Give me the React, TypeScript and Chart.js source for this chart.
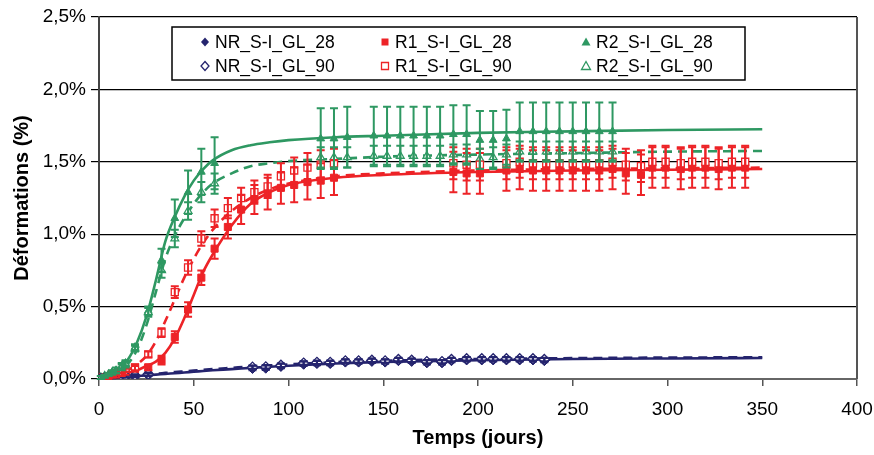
import React, { useEffect, useRef } from 'react';
import { Chart, registerables } from 'chart.js';

Chart.register(...registerables);

const NAVY = '#25246E';
const RED = '#ED2327';
const GREEN = '#2E9862';
const FONT = '"Liberation Sans", Arial, sans-serif';

// ---------- NR series (blue diamonds) ----------
const nrDays = [1, 3, 5, 7, 9, 12, 14, 19, 26, 81, 88, 96, 108, 115, 122, 130, 137, 144, 151, 158, 165, 173, 181, 186, 194, 202, 208, 215, 222, 229, 235];
const nr28 = [0.0, 0.005, 0.008, 0.01, 0.012, 0.015, 0.018, 0.02, 0.03, 0.076, 0.078, 0.09, 0.105, 0.11, 0.11, 0.12, 0.12, 0.125, 0.12, 0.13, 0.125, 0.115, 0.115, 0.13, 0.135, 0.135, 0.135, 0.135, 0.135, 0.135, 0.13];
const nr90 = [0.003, 0.006, 0.01, 0.012, 0.015, 0.018, 0.02, 0.025, 0.035, 0.082, 0.084, 0.095, 0.11, 0.115, 0.115, 0.125, 0.125, 0.13, 0.125, 0.135, 0.13, 0.12, 0.12, 0.135, 0.14, 0.14, 0.14, 0.14, 0.14, 0.14, 0.135];
const nrErr28 = [0, 0, 0.005, 0.005, 0.005, 0.005, 0.008, 0.008, 0.01, 0.015, 0.015, 0.015, 0.015, 0.015, 0.015, 0.015, 0.015, 0.015, 0.015, 0.015, 0.015, 0.015, 0.015, 0.015, 0.015, 0.015, 0.015, 0.015, 0.015, 0.015, 0.015];
const nrErr90 = [0, 0, 0.005, 0.005, 0.005, 0.005, 0.008, 0.008, 0.01, 0.012, 0.012, 0.012, 0.012, 0.012, 0.012, 0.012, 0.012, 0.012, 0.012, 0.012, 0.012, 0.012, 0.012, 0.012, 0.012, 0.012, 0.012, 0.012, 0.012, 0.012, 0.012];

// ---------- R1 series (red squares) ----------
const r1Days = [1, 3, 5, 7, 9, 12, 14, 19, 26, 33, 40, 47, 54, 61, 68, 75, 82, 89, 96, 103, 110, 117, 124, 187, 194, 201, 215, 222, 229, 236, 243, 250, 257, 264, 271, 278, 286, 292, 299, 307, 313, 320, 327, 334, 341];
const r1_28 = [0.0, 0.01, 0.01, 0.02, 0.02, 0.03, 0.04, 0.07, 0.08, 0.13, 0.29, 0.48, 0.70, 0.90, 1.05, 1.17, 1.24, 1.28, 1.32, 1.34, 1.36, 1.37, 1.39, 1.43, 1.42, 1.42, 1.44, 1.45, 1.44, 1.44, 1.44, 1.44, 1.44, 1.44, 1.45, 1.42, 1.41, 1.46, 1.46, 1.45, 1.46, 1.46, 1.45, 1.46, 1.46];
const r1Err28 = [0, 0.01, 0.01, 0.01, 0.01, 0.01, 0.01, 0.02, 0.02, 0.03, 0.04, 0.05, 0.05, 0.07, 0.08, 0.1, 0.1, 0.11, 0.11, 0.12, 0.12, 0.12, 0.12, 0.14, 0.14, 0.14, 0.14, 0.14, 0.14, 0.14, 0.14, 0.14, 0.14, 0.14, 0.14, 0.14, 0.14, 0.14, 0.14, 0.14, 0.14, 0.14, 0.14, 0.14, 0.14];
const r1_90 = [0.01, 0.01, 0.02, 0.03, 0.04, 0.05, 0.06, 0.08, 0.17, 0.32, 0.60, 0.77, 0.97, 1.11, 1.18, 1.25, 1.29, 1.33, 1.40, 1.44, 1.46, 1.48, 1.49, 1.49, 1.48, 1.48, 1.49, 1.50, 1.49, 1.49, 1.49, 1.49, 1.49, 1.49, 1.50, 1.48, 1.47, 1.50, 1.50, 1.49, 1.50, 1.50, 1.49, 1.50, 1.50];
const r1Err90 = [0, 0.01, 0.01, 0.01, 0.01, 0.01, 0.01, 0.02, 0.02, 0.03, 0.04, 0.05, 0.05, 0.06, 0.07, 0.07, 0.08, 0.08, 0.09, 0.09, 0.1, 0.1, 0.1, 0.11, 0.11, 0.11, 0.11, 0.11, 0.11, 0.11, 0.11, 0.11, 0.11, 0.11, 0.11, 0.11, 0.11, 0.11, 0.11, 0.11, 0.11, 0.11, 0.11, 0.11, 0.11];

// ---------- R2 series (green triangles) ----------
const r2Days = [1, 3, 5, 7, 9, 12, 14, 19, 26, 33, 40, 47, 54, 61, 117, 124, 131, 145, 152, 159, 166, 173, 180, 187, 194, 201, 208, 215, 222, 229, 236, 243, 250, 257, 264, 271];
const r2_28 = [0.01, 0.02, 0.03, 0.05, 0.06, 0.09, 0.11, 0.22, 0.47, 0.82, 1.11, 1.29, 1.43, 1.49, 1.66, 1.66, 1.67, 1.68, 1.68, 1.68, 1.68, 1.68, 1.68, 1.69, 1.69, 1.65, 1.65, 1.66, 1.71, 1.71, 1.71, 1.71, 1.71, 1.71, 1.71, 1.71];
const r2Err28 = [0.01, 0.01, 0.01, 0.01, 0.02, 0.02, 0.02, 0.02, 0.03, 0.08, 0.13, 0.15, 0.16, 0.18, 0.21, 0.21, 0.21, 0.2, 0.2, 0.2, 0.2, 0.2, 0.2, 0.2, 0.2, 0.2, 0.2, 0.2, 0.2, 0.2, 0.2, 0.2, 0.2, 0.2, 0.2, 0.2];
const r2_90 = [0.01, 0.02, 0.03, 0.04, 0.05, 0.08, 0.10, 0.21, 0.46, 0.75, 0.97, 1.16, 1.29, 1.35, 1.53, 1.53, 1.53, 1.54, 1.54, 1.54, 1.54, 1.54, 1.54, 1.55, 1.55, 1.52, 1.53, 1.55, 1.57, 1.57, 1.57, 1.57, 1.57, 1.57, 1.57, 1.57];
const r2Err90 = [0.01, 0.01, 0.01, 0.01, 0.01, 0.02, 0.02, 0.02, 0.03, 0.05, 0.06, 0.06, 0.07, 0.07, 0.07, 0.07, 0.07, 0.07, 0.07, 0.07, 0.07, 0.07, 0.07, 0.07, 0.07, 0.07, 0.07, 0.07, 0.07, 0.07, 0.07, 0.07, 0.07, 0.07, 0.07, 0.07];

// ---------- fitted curves ----------
const fitDays = [0, 5, 10, 15, 20, 25, 30, 35, 40, 45, 50, 55, 60, 70, 80, 90, 100, 125, 150, 200, 250, 300, 350];
const nrFit28 = [0, 0.005, 0.01, 0.015, 0.02, 0.025, 0.03, 0.035, 0.04, 0.045, 0.05, 0.055, 0.06, 0.068, 0.077, 0.085, 0.092, 0.107, 0.118, 0.13, 0.138, 0.142, 0.145];
const nrFit90 = [0, 0.006, 0.012, 0.018, 0.024, 0.03, 0.036, 0.042, 0.048, 0.053, 0.058, 0.063, 0.068, 0.077, 0.086, 0.094, 0.101, 0.116, 0.126, 0.138, 0.144, 0.148, 0.15];
const r1Fit28 = [0, 0.01, 0.02, 0.04, 0.06, 0.09, 0.12, 0.18, 0.28, 0.42, 0.58, 0.74, 0.86, 1.06, 1.21, 1.29, 1.34, 1.39, 1.41, 1.43, 1.44, 1.445, 1.45];
const r1Fit90 = [0, 0.015, 0.03, 0.06, 0.10, 0.16, 0.26, 0.40, 0.55, 0.70, 0.83, 0.94, 1.03, 1.16, 1.25, 1.31, 1.35, 1.40, 1.42, 1.44, 1.45, 1.455, 1.46];
const r2Fit28 = [0, 0.03, 0.07, 0.13, 0.25, 0.43, 0.68, 0.95, 1.12, 1.26, 1.37, 1.45, 1.51, 1.58, 1.615, 1.635, 1.65, 1.67, 1.68, 1.70, 1.71, 1.72, 1.725];
const r2Fit90 = [0, 0.02, 0.05, 0.10, 0.20, 0.37, 0.60, 0.83, 0.99, 1.11, 1.21, 1.29, 1.35, 1.42, 1.47, 1.49, 1.505, 1.52, 1.535, 1.55, 1.56, 1.57, 1.575];

// ---------- axis ticks ----------
const xTicks = [0, 50, 100, 150, 200, 250, 300, 350, 400];
const yTicks = [0, 0.5, 1.0, 1.5, 2.0, 2.5];

const legendLabels = ['NR_S-I_GL_28', 'R1_S-I_GL_28', 'R2_S-I_GL_28', 'NR_S-I_GL_90', 'R1_S-I_GL_90', 'R2_S-I_GL_90'];

const pts = (xs: number[], ys: number[]) => xs.map((x, i) => ({ x, y: ys[i] }));

function drawMarker(ctx: CanvasRenderingContext2D, shape: string, x: number, y: number, color: string, filled: boolean) {
  ctx.save();
  ctx.beginPath();
  if (shape === 'rectRot') {
    ctx.moveTo(x, y - 4.5); ctx.lineTo(x + 4, y); ctx.lineTo(x, y + 4.5); ctx.lineTo(x - 4, y); ctx.closePath();
  } else if (shape === 'rect') {
    ctx.rect(x - 3.5, y - 3.5, 7, 7);
  } else {
    ctx.moveTo(x, y - 4.5); ctx.lineTo(x + 4.5, y + 3.5); ctx.lineTo(x - 4.5, y + 3.5); ctx.closePath();
  }
  if (filled) { ctx.fillStyle = color; ctx.fill(); }
  else { ctx.fillStyle = '#fff'; ctx.fill(); ctx.strokeStyle = color; ctx.lineWidth = 1.3; ctx.stroke(); }
  ctx.restore();
}

const errorBarPlugin = {
  id: 'errorBars',
  afterDatasetsDraw(chart: any) {
    const ctx = chart.ctx;
    const ys = chart.scales.y;
    chart.data.datasets.forEach((ds: any, i: number) => {
      if (!ds.errors) return;
      const meta = chart.getDatasetMeta(i);
      ctx.save();
      ctx.strokeStyle = ds.borderColor;
      ctx.lineWidth = 2;
      meta.data.forEach((el: any, j: number) => {
        const e = ds.errors[j];
        if (!e) return;
        const v = ds.data[j].y;
        const top = ys.getPixelForValue(v + e);
        const bot = ys.getPixelForValue(v - e);
        ctx.beginPath();
        ctx.moveTo(el.x, top); ctx.lineTo(el.x, bot);
        ctx.moveTo(el.x - 4, top); ctx.lineTo(el.x + 4, top);
        ctx.moveTo(el.x - 4, bot); ctx.lineTo(el.x + 4, bot);
        ctx.stroke();
      });
      ctx.restore();
    });
  },
};

const framePlugin = {
  id: 'frameAndLegend',
  afterDraw(chart: any) {
    const ctx = chart.ctx;
    const a = chart.chartArea;
    ctx.save();
    ctx.strokeStyle = '#555';
    ctx.lineWidth = 2;
    ctx.beginPath();
    ctx.moveTo(a.right, a.top); ctx.lineTo(a.right, a.bottom);
    ctx.stroke();
    // legend box
    const L = 172, T = 27, W = 573, H = 53;
    ctx.fillStyle = '#fff';
    ctx.fillRect(L, T, W, H);
    ctx.strokeStyle = '#000';
    ctx.lineWidth = 1.5;
    ctx.strokeRect(L, T, W, H);
    const colX = [205, 385, 586];
    const rowY = [42, 66];
    const shapes = ['rectRot', 'rect', 'triangle'];
    const colors = [NAVY, RED, GREEN];
    ctx.font = `17.5px ${FONT}`;
    ctx.textBaseline = 'middle';
    ctx.textAlign = 'left';
    for (let r = 0; r < 2; r++) {
      for (let c = 0; c < 3; c++) {
        drawMarker(ctx, shapes[c], colX[c], rowY[r], colors[c], r === 0);
        ctx.fillStyle = '#000';
        ctx.fillText(legendLabels[r * 3 + c], colX[c] + 10, rowY[r] + 1);
      }
    }
    ctx.restore();
  },
};

function markerSet(label: string, xs: number[], ys: number[], errs: number[], color: string, shape: string, filled: boolean, radius: number) {
  return {
    label,
    data: pts(xs, ys),
    errors: errs,
    showLine: false,
    borderColor: color,
    backgroundColor: filled ? color : '#fff',
    pointStyle: shape,
    pointRadius: radius,
    pointBorderWidth: filled ? 1 : 1.3,
    order: 1,
  };
}

function curveSet(label: string, ys: number[], color: string, dashed: boolean) {
  return {
    label,
    data: pts(fitDays, ys),
    showLine: true,
    borderColor: color,
    backgroundColor: color,
    borderWidth: 2.6,
    borderDash: dashed ? [9, 6] : [],
    pointRadius: 0,
    cubicInterpolationMode: 'monotone',
    order: 2,
  };
}

export default function App() {
  const ref = useRef<HTMLCanvasElement | null>(null);
  useEffect(() => {
    document.body.style.margin = '0';
    const canvas = ref.current;
    if (!canvas) return;
    const chart = new Chart(canvas, {
      type: 'scatter',
      data: {
        datasets: [
          curveSet('fit NR 28', nrFit28, NAVY, false),
          curveSet('fit NR 90', nrFit90, NAVY, true),
          curveSet('fit R1 28', r1Fit28, RED, false),
          curveSet('fit R1 90', r1Fit90, RED, true),
          curveSet('fit R2 28', r2Fit28, GREEN, false),
          curveSet('fit R2 90', r2Fit90, GREEN, true),
          markerSet('NR_S-I_GL_90', nrDays, nr90, nrErr90, NAVY, 'rectRot', false, 5),
          markerSet('NR_S-I_GL_28', nrDays, nr28, nrErr28, NAVY, 'rectRot', true, 5.5),
          markerSet('R1_S-I_GL_90', r1Days, r1_90, r1Err90, RED, 'rect', false, 5),
          markerSet('R1_S-I_GL_28', r1Days, r1_28, r1Err28, RED, 'rect', true, 5),
          markerSet('R2_S-I_GL_90', r2Days, r2_90, r2Err90, GREEN, 'triangle', false, 4.5),
          markerSet('R2_S-I_GL_28', r2Days, r2_28, r2Err28, GREEN, 'triangle', true, 4.5),
        ] as any,
      },
      options: {
        responsive: false,
        animation: false,
        events: [],
        layout: { padding: { top: 17, right: 17, left: 0, bottom: 0 } },
        plugins: { legend: { display: false }, tooltip: { enabled: false } },
        scales: {
          x: {
            type: 'linear',
            min: 0,
            max: 400,
            afterBuildTicks: (s: any) => { s.ticks = xTicks.map((v) => ({ value: v })); },
            afterFit: (s: any) => { s.height = 76; s.paddingRight = 0; s.paddingLeft = 0; },
            ticks: { color: '#000', font: { family: FONT, size: 19 }, padding: 12, maxRotation: 0, autoSkip: false },
            grid: { drawOnChartArea: false, drawTicks: true, tickLength: 7, color: '#555', lineWidth: 1.5 },
            border: { color: '#666', width: 2 },
            title: { display: true, text: 'Temps (jours)', color: '#000', font: { family: FONT, size: 20, weight: 'bold' }, padding: { top: 0, bottom: 5 } },
          },
          y: {
            min: 0,
            max: 2.5,
            afterBuildTicks: (s: any) => { s.ticks = yTicks.map((v) => ({ value: v })); },
            afterFit: (s: any) => { s.width = 99; s.paddingTop = 0; s.paddingBottom = 0; },
            ticks: {
              color: '#000',
              font: { family: FONT, size: 19 },
              padding: 5,
              callback: (v: any) => Number(v).toFixed(1).replace('.', ',') + '%',
            },
            grid: { color: '#000', lineWidth: 1.2, tickLength: 8, drawTicks: true },
            border: { color: '#444', width: 2 },
            title: { display: true, text: 'Déformations (%)', color: '#000', font: { family: FONT, size: 20, weight: 'bold' }, padding: { top: 10, bottom: 0 } },
          },
        },
      } as any,
      plugins: [errorBarPlugin, framePlugin],
    });
    return () => chart.destroy();
  }, []);
  return (
    <div style={{ width: 874, height: 455 }}>
      <canvas ref={ref} width={874} height={455} style={{ width: 874, height: 455, display: 'block' }} />
    </div>
  );
}
